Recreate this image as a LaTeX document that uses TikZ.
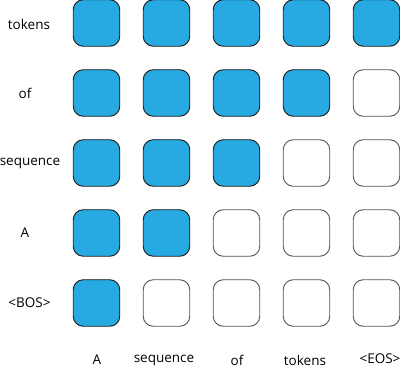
\documentclass[tikz,border=0pt]{standalone}
\usepackage{fontspec}
\setmainfont{Open Sans}
\definecolor{cellblue}{HTML}{27A9E1}
\definecolor{celledge}{HTML}{1A1A1A}
\definecolor{emptyedge}{HTML}{555555}
\begin{document}
\begin{tikzpicture}[x=1pt,y=1pt,
  cell/.style={minimum width=46.5pt,minimum height=46.5pt,rounded corners=10pt,inner sep=0pt,line width=0.9pt},
  full/.style={cell,draw=celledge,fill=cellblue},
  empty/.style={cell,draw=emptyedge,fill=white},
  lab/.style={font=\fontsize{13.5}{15}\selectfont,inner sep=0pt}]
\useasboundingbox (0,0) rectangle (400,370);
% rows from bottom (r=1) to top (r=5), columns c=1..5
\foreach \r in {1,...,5}{
  \foreach \c in {1,...,5}{
    \pgfmathtruncatemacro{\isfull}{\c<=\r ? 1 : 0}
    \ifnum\isfull=1
      \node[full] (c-\r-\c) at ({96.5+70*(\c-1)},{67+70*(\r-1)}) {};
    \else
      \node[empty] (c-\r-\c) at ({96.5+70*(\c-1)},{67+70*(\r-1)}) {};
    \fi
  }
}
\node[lab] (r1) at (29.5,67) {<BOS>};
\node[lab] (r2) at (25,137) {A};
\node[lab] (r3) at (30,207) {sequence};
\node[lab] (r4) at (25,277) {of};
\node[lab] (r5) at (29,346) {tokens};
\node[lab] (k1) at (97,10) {A};
\node[lab] (k2) at (164,10) {sequence};
\node[lab] (k3) at (237,10) {of};
\node[lab] (k4) at (305,10) {tokens};
\node[lab] (k5) at (380,11) {<EOS>};
\end{tikzpicture}
\end{document}
